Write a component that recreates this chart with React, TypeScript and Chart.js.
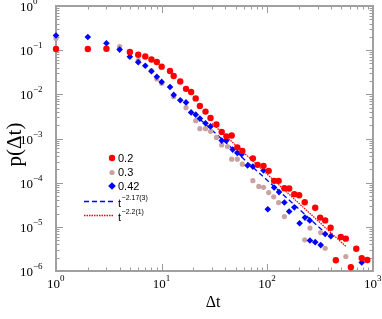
import React, { useEffect, useRef } from "react";
import { Chart, registerables } from "chart.js";
Chart.register(...registerables);

const seriesLabels = ["0.2", "0.3", "0.42"];
const fitExponents = ["\u22122.17(3)", "\u22122.2(1)"];

const redX = [1,2,3,5,6,7,8,9,10,12,13,15,17,19,21,23,26,29,33,37,41,46,52,58,73,81,92,103,116,128,145,161,180,200,226,284,316,353,397,445,496,553,617,695,782,883];
const redY = [0.106,0.106,0.108,0.091,0.079,0.072,0.0616,0.054,0.0423,0.0338,0.0261,0.0196,0.0133,0.0113,0.00808,0.00547,0.00406,0.00293,0.00208,0.00141,0.00112,0.00117,0.00063,0.000524,0.000355,0.000253,0.00024,0.000185,0.00011,0.00011,7.5e-5,7.4e-5,5.5e-5,5.2e-5,3.6e-5,2.7e-5,1.62e-5,1.4e-5,9.5e-6,1.75e-6,5.9e-6,5.4e-6,1.22e-6,3.2e-6,1.96e-6,1.77e-6];

const pinkX = [1,4,5,6,8,9,10,13,17,21,23,26,29,33,37,42,46,52,58,73,83,92,103,115,128,145,226,253,320,353,553];
const pinkY = [0.186,0.12,0.088,0.0585,0.0344,0.0223,0.0178,0.00887,0.005,0.00253,0.00167,0.00167,0.00145,0.00106,0.000716,0.000656,0.00034,0.00034,0.000262,0.000111,8.24e-5,7.83e-5,5.97e-5,4.77e-5,3.55e-5,1.71e-5,5.08e-6,9.35e-6,7.43e-6,3.27e-6,2.13e-6];

const blueX = [1,2,3,4,5,6,7,8,9,10,12,13,15,17,19,21,23,26,29,37,41,47,52,57,65,73,92,101,116,129,145,161,180,202,227,252,253,284,320,353,399,782];
const blueY = [0.215,0.199,0.143,0.103,0.0713,0.0535,0.0444,0.0333,0.0251,0.0191,0.0147,0.0097,0.00736,0.00656,0.0039,0.00347,0.00282,0.00222,0.00188,0.000896,0.000896,0.000561,0.000472,0.000441,0.000244,0.000231,0.000188,2.51e-5,7.75e-5,6.12e-5,3.55e-5,2.22e-5,2.76e-5,1.21e-5,1.62e-5,1.4e-5,4.9e-6,4.5e-6,3.86e-6,6.87e-6,6.16e-6,1.56e-6];

// fit lines (end points of straight lines in log-log)
const blueFitX = [23, 369];
const blueFitY = [0.00273, 6.64e-6];
const redFitX = [30, 556];
const redFitY = [0.00219, 3.56e-6];

const xTickExps = [0, 1, 2, 3];
const yTickExps = [0, -1, -2, -3, -4, -5, -6];

const RED = "#ff0000";
const BLUE = "#0000ff";
const PINK = "#c9a2a2";

function pts(xs: number[], ys: number[]) {
  return xs.map((x, i) => ({ x, y: ys[i] }));
}

function sup(n: number) {
  return n < 0 ? "\u2212" + String(-n) : String(n);
}

const decoPlugin = {
  id: "deco",
  beforeDatasetsDraw(chart: any) {
    const { ctx, chartArea: a, scales } = chart;
    const xs = scales.x, ys = scales.y;
    ctx.save();
    ctx.strokeStyle = "#9a9a9a";
    ctx.lineWidth = 1;
    const ln = (x1: number, y1: number, x2: number, y2: number) => {
      ctx.beginPath(); ctx.moveTo(x1, y1); ctx.lineTo(x2, y2); ctx.stroke();
    };
    for (let e = 0; e <= 3; e++) {
      for (let m = 1; m < 10; m++) {
        if (e === 3 && m > 1) break;
        const px = Math.round(xs.getPixelForValue(m * Math.pow(10, e))) + 0.5;
        const len = m === 1 ? 7 : 3.5;
        ln(px, a.bottom, px, a.bottom - len);
        ln(px, a.top, px, a.top + len);
      }
    }
    for (let e = -6; e <= 0; e++) {
      for (let m = 1; m < 10; m++) {
        if (e === 0 && m > 1) break;
        const py = Math.round(ys.getPixelForValue(m * Math.pow(10, e))) + 0.5;
        const len = m === 1 ? 7 : 3.5;
        ln(a.left, py, a.left + len, py);
        ln(a.right, py, a.right - len, py);
      }
    }
    ctx.lineWidth = 2;
    ctx.strokeStyle = "#a0a0a0";
    ctx.strokeRect(a.left, a.top, a.right - a.left, a.bottom - a.top);
    ctx.restore();
  },
  afterDraw(chart: any) {
    const { ctx, chartArea: a, scales } = chart;
    const xs = scales.x, ys = scales.y;
    ctx.save();
    ctx.fillStyle = "#000";
    ctx.textBaseline = "alphabetic";
    ctx.textAlign = "left";
    const baseFont = "13px 'Liberation Serif', 'Times New Roman', serif";
    const supFont = "9px 'Liberation Serif', 'Times New Roman', serif";
    // x tick labels
    for (const e of xTickExps) {
      const px = xs.getPixelForValue(Math.pow(10, e));
      ctx.font = baseFont;
      const w = ctx.measureText("10").width;
      const x0 = px - 9;
      ctx.fillText("10", x0, a.bottom + 17);
      ctx.font = supFont;
      ctx.fillText(sup(e), x0 + w, a.bottom + 10);
    }
    // y tick labels
    for (const e of yTickExps) {
      const py = ys.getPixelForValue(Math.pow(10, e));
      ctx.font = baseFont;
      const w = ctx.measureText("10").width;
      const x0 = 20;
      ctx.fillText("10", x0, py + 5);
      ctx.font = supFont;
      ctx.fillText(sup(e), x0 + w, py - 2);
    }
    // axis titles
    ctx.font = "16px 'Liberation Serif', 'Times New Roman', serif";
    ctx.textAlign = "center";
    ctx.fillText("\u0394t", 213, 307);
    ctx.save();
    ctx.translate(21, 144.5);
    ctx.rotate(-Math.PI / 2);
    ctx.font = "21px 'Liberation Serif', 'Times New Roman', serif";
    ctx.fillText("p(\u0394t)", 0, 0);
    ctx.restore();

    // legend
    const lx = 112;
    const tx = 118;
    const rows = [158, 172.5, 186];
    const metas = [0, 2, 1];
    ctx.textAlign = "left";
    ctx.textBaseline = "middle";
    ctx.font = "11px 'Liberation Sans', Arial, sans-serif";
    for (let i = 0; i < 3; i++) {
      const ds = chart.data.datasets[metas[i]];
      ctx.fillStyle = ds.backgroundColor;
      const r = ds.pointRadius;
      ctx.beginPath();
      if (ds.pointStyle === "rectRot") {
        ctx.moveTo(lx, rows[i] - r - 0.5);
        ctx.lineTo(lx + r + 0.5, rows[i]);
        ctx.lineTo(lx, rows[i] + r + 0.5);
        ctx.lineTo(lx - r - 0.5, rows[i]);
        ctx.closePath();
      } else {
        ctx.arc(lx, rows[i], r, 0, Math.PI * 2);
      }
      ctx.fill();
      ctx.fillStyle = "#000";
      ctx.fillText(seriesLabels[i], tx, rows[i] + 0.5);
    }
    const fitRows = [201, 215];
    const fitColors = [BLUE, RED];
    const fitDash = [[5, 3], [1.5, 1]];
    for (let i = 0; i < 2; i++) {
      ctx.save();
      ctx.strokeStyle = fitColors[i];
      ctx.lineWidth = 1.3;
      ctx.setLineDash(fitDash[i]);
      ctx.beginPath();
      ctx.moveTo(84, fitRows[i] + 0.5);
      ctx.lineTo(113, fitRows[i] + 0.5);
      ctx.stroke();
      ctx.restore();
      ctx.fillStyle = "#000";
      ctx.font = "11px 'Liberation Sans', Arial, sans-serif";
      ctx.textBaseline = "alphabetic";
      ctx.fillText("t", tx, fitRows[i] + 6);
      const tw = ctx.measureText("t").width;
      ctx.font = "7px 'Liberation Sans', Arial, sans-serif";
      ctx.fillText(fitExponents[i], tx + tw + 0.5, fitRows[i] - 1);
      ctx.textBaseline = "middle";
    }
    ctx.restore();
  },
};

export default function App() {
  const ref = useRef<HTMLCanvasElement | null>(null);
  useEffect(() => {
    if (!ref.current) return;
    const chart = new Chart(ref.current, {
      type: "scatter",
      data: {
        datasets: [
          {
            label: seriesLabels[0],
            data: pts(redX, redY),
            backgroundColor: RED,
            borderColor: RED,
            pointRadius: 3.2,
            pointStyle: "circle",
            borderWidth: 0,
            clip: false,
          } as any,
          {
            label: seriesLabels[2],
            data: pts(blueX, blueY),
            backgroundColor: BLUE,
            borderColor: BLUE,
            pointRadius: 3.3,
            pointStyle: "rectRot",
            borderWidth: 0,
            clip: false,
          } as any,
          {
            label: seriesLabels[1],
            data: pts(pinkX, pinkY),
            backgroundColor: PINK,
            borderColor: PINK,
            pointRadius: 2.6,
            pointStyle: "circle",
            borderWidth: 0,
            clip: false,
          } as any,
          {
            type: "line",
            label: "fit1",
            data: pts(blueFitX, blueFitY),
            borderColor: BLUE,
            backgroundColor: BLUE,
            borderWidth: 1.3,
            borderDash: [5, 3],
            pointRadius: 0,
            showLine: true,
            fill: false,
          } as any,
          {
            type: "line",
            label: "fit2",
            data: pts(redFitX, redFitY),
            borderColor: RED,
            backgroundColor: RED,
            borderWidth: 1.3,
            borderDash: [1.5, 1],
            pointRadius: 0,
            showLine: true,
            fill: false,
          } as any,
        ],
      },
      options: {
        animation: false,
        responsive: false,
        devicePixelRatio: 1,
        layout: { padding: { left: 56, top: 6, right: 9, bottom: 48 } },
        plugins: { legend: { display: false }, tooltip: { enabled: false } },
        scales: {
          x: { type: "logarithmic", min: 1, max: 1000, display: false },
          y: { type: "logarithmic", min: 1e-6, max: 1, display: false },
        },
      },
      plugins: [decoPlugin],
    } as any);
    return () => chart.destroy();
  }, []);
  return (
    <div style={{ position: "fixed", left: 0, top: 0, width: 382, height: 319, background: "#fff" }}>
      <canvas ref={ref} width={382} height={319} style={{ display: "block" }} />
    </div>
  );
}
